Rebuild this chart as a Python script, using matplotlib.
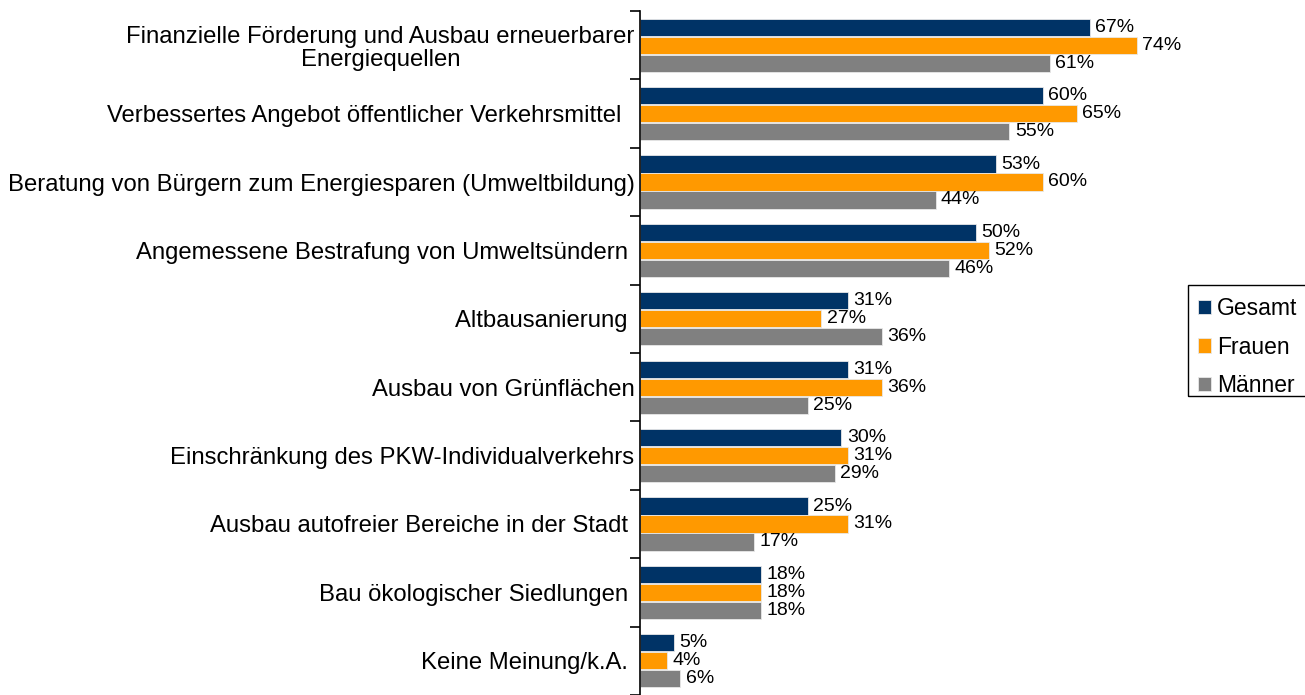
import matplotlib.pyplot as plt
import numpy as np
from matplotlib.patches import Rectangle

plt.rcParams["font.family"] = ["Liberation Sans", "DejaVu Sans"]

# Kategorien (von oben nach unten)
categories = [
    "Finanzielle Förderung und Ausbau erneuerbarer\nEnergiequellen",
    "Verbessertes Angebot öffentlicher Verkehrsmittel  ",
    "Beratung von Bürgern zum Energiesparen (Umweltbildung)",
    "Angemessene Bestrafung von Umweltsündern ",
    "Altbausanierung ",
    "Ausbau von Grünflächen",
    "Einschränkung des PKW-Individualverkehrs",
    "Ausbau autofreier Bereiche in der Stadt ",
    "Bau ökologischer Siedlungen ",
    "Keine Meinung/k.A. ",
]
gesamt = [67, 60, 53, 50, 31, 31, 30, 25, 18, 5]
frauen = [74, 65, 60, 52, 27, 36, 31, 31, 18, 4]
maenner = [61, 55, 44, 46, 36, 25, 29, 17, 18, 6]

series = [
    ("Gesamt", gesamt, "#003366"),
    ("Frauen", frauen, "#FF9900"),
    ("Männer", maenner, "#808080"),
]

W, H = 1305, 695
fig = plt.figure(figsize=(W / 100, H / 100), dpi=100)
ax = fig.add_axes([640 / W, 0, 540 / W, 684 / H])

n = len(categories)
y = np.arange(n)
step = 0.263
height = 0.25

for k, (name, vals, color) in enumerate(series):
    pos = y + (k - 1) * step
    ax.barh(pos, vals, height=height, color=color, edgecolor="#e8e8e8",
            linewidth=0.6, label=name)
    for p, v in zip(pos, vals):
        ax.text(v + 0.8, p, f"{v}%", va="center", ha="left", fontsize=14)

ax.set_ylim(n - 0.5, -0.5)
ax.set_xlim(0, 80.4)

ax.set_yticks(y)
ax.set_yticklabels(categories, fontsize=17.2, ha="right",
                   multialignment="center", linespacing=1.08)
ax.tick_params(axis="y", length=0, pad=4)

# Trennstriche zwischen den Kategorien
ax.set_yticks(np.arange(n + 1) - 0.5, minor=True)
ax.tick_params(axis="y", which="minor", length=7, width=1.2, direction="out")
ax.set_xticks([])

for s in ["top", "right", "bottom"]:
    ax.spines[s].set_visible(False)
ax.spines["left"].set_linewidth(1.2)

# Legende: Rahmen separat, damit er unten knapp am Text endet
fig.patches.append(Rectangle((1188 / W, 1 - 396 / H), 130 / W, 111 / H,
                             transform=fig.transFigure, fill=False,
                             edgecolor="black", linewidth=1.0))
leg = fig.legend(loc="upper left", bbox_to_anchor=(1198 / W, 1 - 297 / H),
                 fontsize=16.5, handlelength=0.57, handleheight=0.57,
                 handletextpad=0.26, labelspacing=0.68, borderpad=0,
                 frameon=False, borderaxespad=0)

fig.savefig("out.png", dpi=100)
